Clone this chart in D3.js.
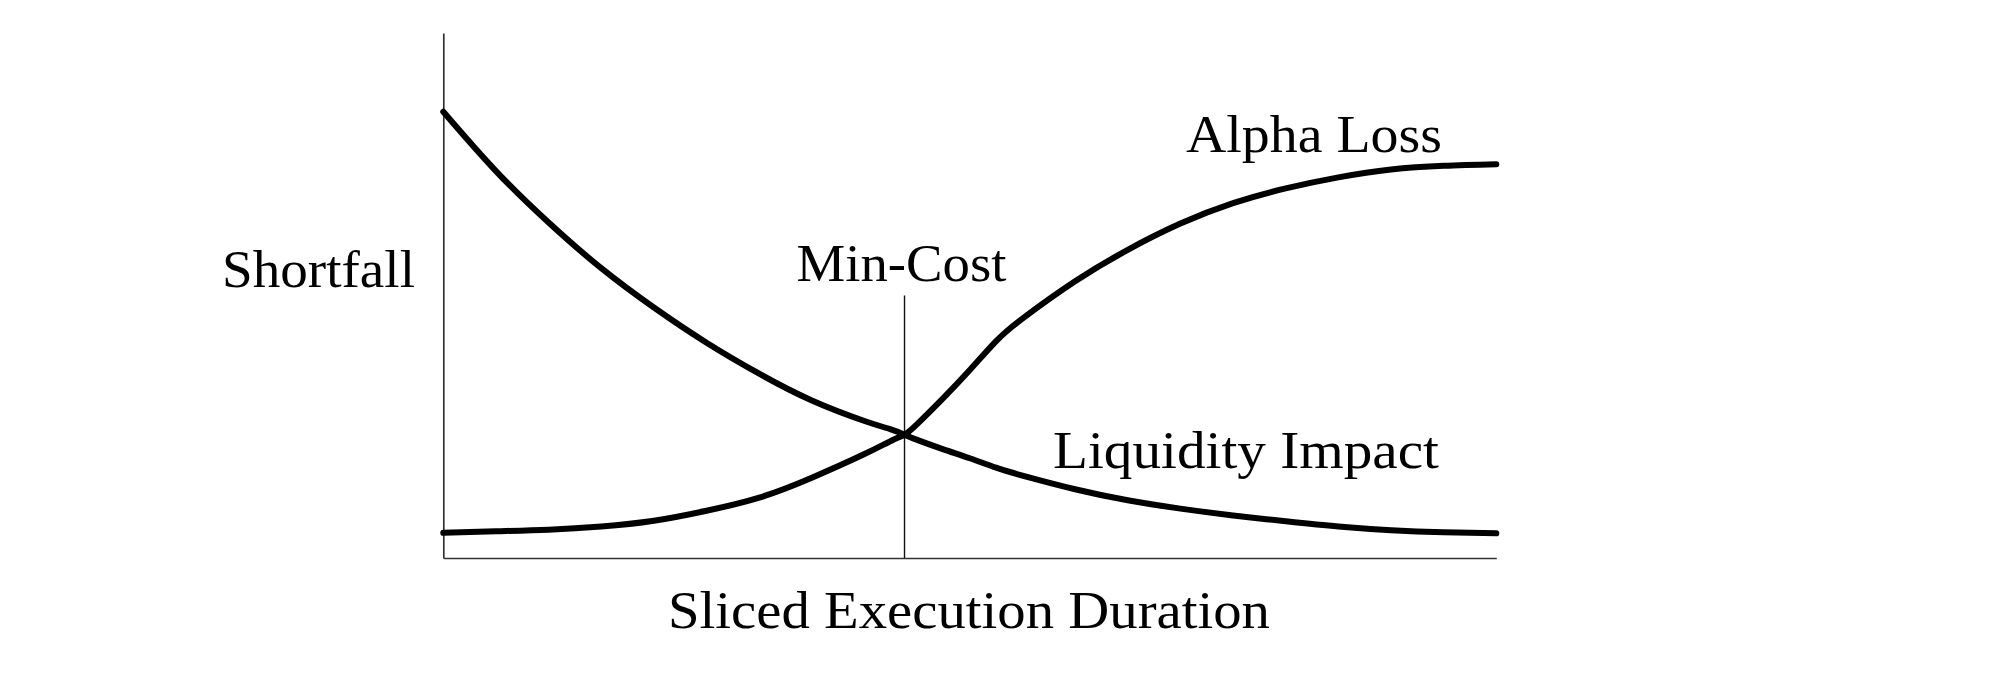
<!DOCTYPE html>
<html>
<head>
<meta charset="utf-8">
<script src="https://cdn.jsdelivr.net/npm/d3@7"></script>
<style>
  html, body { margin: 0; padding: 0; background: #fff; }
  svg { display: block; }
  text { font-family: "Liberation Serif", "DejaVu Serif", serif; fill: #000; }
</style>
</head>
<body>
<script>
// ---- data ----
const durations = [0, 0.5, 1, 1.5, 2, 2.5, 3, 3.5, 4, 4.25, 4.38, 4.5, 4.75, 5, 5.25, 5.5, 6, 6.5, 7, 7.5, 8, 8.5, 9, 9.5, 10];
const liquidityImpact = [8.50, 7.37, 6.39, 5.52, 4.77, 4.10, 3.51, 3.00, 2.61, 2.45, 2.35, 2.25, 2.07, 1.90, 1.72, 1.57, 1.31, 1.10, 0.94, 0.81, 0.70, 0.60, 0.53, 0.49, 0.47];
const alphaLoss = [0.48, 0.51, 0.54, 0.60, 0.71, 0.90, 1.15, 1.53, 1.98, 2.23, 2.35, 2.55, 3.05, 3.58, 4.13, 4.56, 5.27, 5.87, 6.37, 6.76, 7.04, 7.25, 7.40, 7.47, 7.50];
const minCostX = 4.38;
const minCostTop = 5.0;
const labels = {
  y: "Shortfall",
  x: "Sliced Execution Duration",
  minCost: "Min-Cost",
  alpha: "Alpha Loss",
  liquidity: "Liquidity Impact"
};

// ---- layout ----
const W = 2000, H = 677;
const plotLeft = 443.3, plotRight = 1496.3, plotTop = 33, plotBottom = 558;

const svg = d3.select("body").append("svg").attr("width", W).attr("height", H);

const x = d3.scaleLinear().domain([0, 10]).range([plotLeft, plotRight]);
const y = d3.scaleLinear().domain([0, 10]).range([plotBottom, plotTop]);

// axes (no ticks)
const xAxis = d3.axisBottom(x).tickValues([]).tickSizeOuter(0);
const yAxis = d3.axisLeft(y).tickValues([]).tickSizeOuter(0);
const gx = svg.append("g").attr("transform", `translate(0,${plotBottom})`).call(xAxis);
const gy = svg.append("g").attr("transform", `translate(${plotLeft},0)`).call(yAxis);
[gx, gy].forEach(g => g.select(".domain").attr("stroke", "#333").attr("stroke-width", 1.7));

// min-cost vertical line
svg.append("line")
  .attr("x1", x(minCostX)).attr("x2", x(minCostX))
  .attr("y1", y(0)).attr("y2", y(minCostTop))
  .attr("stroke", "#111").attr("stroke-width", 1.4);

const line = d3.line().x(d => x(d[0])).y(d => y(d[1])).curve(d3.curveNatural);

svg.append("path")
  .datum(durations.map((d, i) => [d, liquidityImpact[i]]))
  .attr("d", line).attr("fill", "none").attr("stroke", "#000")
  .attr("stroke-width", 6).attr("stroke-linecap", "round").attr("stroke-linejoin", "round");

svg.append("path")
  .datum(durations.map((d, i) => [d, alphaLoss[i]]))
  .attr("d", line).attr("fill", "none").attr("stroke", "#000")
  .attr("stroke-width", 6).attr("stroke-linecap", "round").attr("stroke-linejoin", "round");

// labels
const fs = 53;
function label(txt, px, py, len) {
  svg.append("text")
    .attr("x", px).attr("y", py)
    .attr("font-size", fs)
    .attr("textLength", len)
    .attr("lengthAdjust", "spacingAndGlyphs")
    .text(txt);
}
label(labels.y, 222, 287, 193);
label(labels.minCost, x(minCostX) - 108, 281, 210);
label(labels.alpha, 1186, 152, 256);
label(labels.liquidity, 1053, 468, 386);
label(labels.x, 668, 628, 602);
</script>
</body>
</html>
